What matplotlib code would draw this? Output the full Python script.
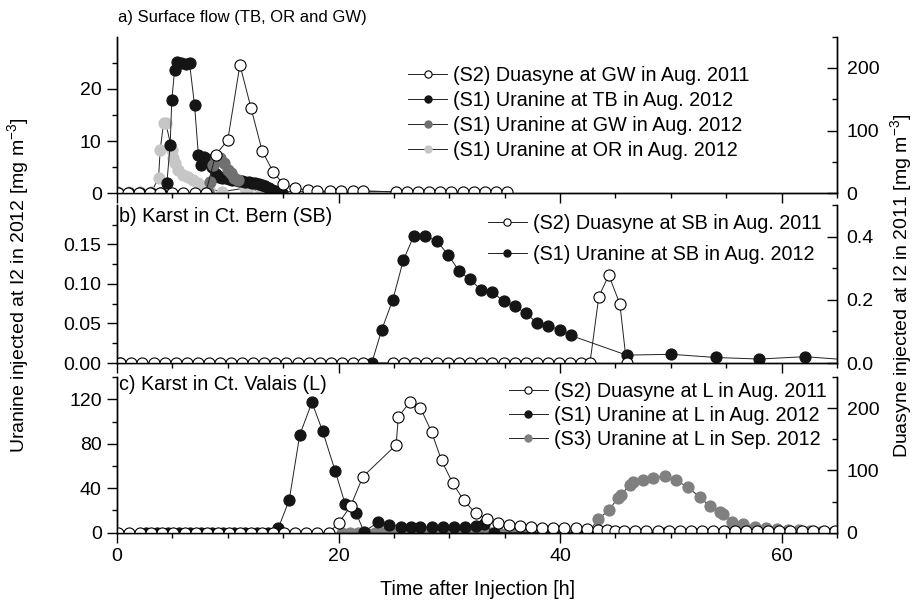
import matplotlib.pyplot as plt

plt.rcParams['font.family'] = ['Liberation Sans', 'DejaVu Sans']
plt.rcParams['font.size'] = 14
plt.rcParams['mathtext.fontset'] = 'custom'
plt.rcParams['mathtext.rm'] = 'Liberation Sans'

# ---- panel a: surface flow ----
a_s2_t = [0.1, 1.0, 2.0, 3.0, 3.9, 5.0, 6.0, 7.0, 8.0, 8.9, 10.0, 11.1, 12.1, 13.1, 14.1, 15.0, 16.1,
          17.2, 18.1, 19.2, 20.2, 21.3, 22.2, 25.2, 26.2, 27.2, 28.2, 29.2, 30.2, 31.2, 32.2, 33.2, 34.2, 35.2]
a_s2_v = [0, 0, 0, 0, 0, 0, 0, 0, 0, 61, 85, 205, 136, 68, 34, 15, 8,
          5, 3, 3, 3, 3, 4, 2, 2, 2, 2, 2, 2, 2, 2, 2, 2, 2]
a_tb_t = [0.1, 1.1, 2.1, 3.1, 4.0, 4.5, 4.8, 4.95, 5.2, 5.45, 5.75, 6.2, 6.55, 7.0, 7.35, 7.6, 7.85, 8.1,
          8.35, 8.6, 8.9, 9.2, 9.5, 9.8, 10.1, 10.4, 10.7, 11.0, 11.3, 11.6, 11.9, 12.2, 12.5, 12.8,
          13.1, 13.4, 13.7, 14.0, 14.3, 14.6, 14.9]
a_tb_v = [0, 0, 0, 0, 0, 1.9, 9.3, 17.9, 23.6, 25.1, 25.0, 24.7, 24.9, 16.9, 7.3, 5.4, 7.0, 6.6,
          6.0, 5.0, 3.6, 3.1, 3.0, 2.9, 2.8, 2.6, 2.5, 2.4, 2.3, 2.2, 2.1, 2.0, 1.9, 1.7,
          1.5, 1.3, 1.0, 0.7, 0.5, 0.2, 0.1]
a_gw_t = [8.2, 8.4, 8.7, 8.9, 9.3, 9.7, 10.05, 10.3, 10.6, 10.9]
a_gw_v = [0.3, 2.2, 5.5, 6.8, 6.8, 5.8, 4.5, 3.8, 3.0, 2.5]
a_or_t = [0.1, 1.1, 2.1, 3.1, 3.75, 3.9, 4.2, 4.4, 4.95, 5.1, 5.25, 5.55, 6.0, 6.4, 6.9, 7.3, 7.8,
          8.3, 9.5, 11.6, 11.85, 13.0, 22.2, 25.2]
a_or_v = [0.2, 0.2, 0.2, 0.2, 2.9, 8.3, 13.4, 13.5, 8.3, 6.7, 5.8, 4.5, 3.5, 3.2, 2.5, 1.9, 1.2,
          0.8, 0.3, 1.0, 1.0, 0.3, 0.3, 0.3]

# ---- panel b: karst Ct. Bern ----
b_s2_t = [0.3, 1.3, 2.3, 3.3, 4.3, 5.3, 6.3, 7.3, 8.3, 9.3, 10.3, 11.3, 12.3, 13.3, 14.3, 15.3, 16.3,
          17.3, 18.3, 19.3, 20.3, 21.3, 22.2, 24.9, 25.9, 26.9, 27.9, 28.9, 29.9, 30.9, 31.9, 32.9,
          33.9, 34.9, 35.9, 36.9, 37.9, 38.9, 39.9, 40.9, 41.9, 42.7, 43.5, 44.4, 45.4, 46.0]
b_s2_v = [0, 0, 0, 0, 0, 0, 0, 0, 0, 0, 0, 0, 0, 0, 0, 0, 0,
          0, 0, 0, 0, 0, 0, 0, 0, 0, 0, 0, 0, 0, 0, 0,
          0, 0, 0, 0, 0, 0, 0, 0, 0, 0, 0.21, 0.278, 0.187, 0.0]
b_s1_t = [0.3, 23.0, 23.9, 24.9, 25.85, 26.8, 27.8, 28.9, 29.9, 30.9, 31.85, 32.85, 33.9, 34.9,
          35.9, 36.9, 37.9, 38.9, 40.0, 40.95, 46.0, 50.05, 54.05, 58.0, 62.1, 66.0]
b_s1_v = [0.0, 0.0, 0.042, 0.080, 0.130, 0.161, 0.161, 0.154, 0.137, 0.116, 0.106, 0.093, 0.090, 0.078,
          0.072, 0.063, 0.051, 0.047, 0.042, 0.035, 0.010, 0.011, 0.007, 0.005, 0.008, 0.004]

# ---- panel c: karst Ct. Valais ----
c_s2_t = [0.1, 1.1, 2.1, 3.1, 4.1, 5.1, 6.1, 7.1, 8.1, 9.1, 10.1, 11.1, 12.1, 13.1, 14.1, 15.1, 16.1,
          17.1, 18.1, 19.1, 20.0, 21.1, 22.2, 25.2, 25.4, 26.45, 27.4, 28.4, 29.3, 30.3, 31.3, 32.4,
          33.4, 34.4, 35.4, 36.4, 37.4, 38.4, 39.4, 40.4, 41.4, 42.4, 43.4, 44.2, 45.0, 45.8, 46.8,
          47.8, 48.8, 49.8, 50.8, 51.8, 52.8, 53.8, 54.8, 55.8, 56.8, 57.8, 58.8, 59.8, 60.8, 61.8,
          62.8, 63.8, 64.8]
c_s2_v = [0, 0, 0, 0, 0, 0, 0, 0, 0, 0, 0, 0, 0, 0, 0, 0, 0,
          0, 0, 0, 15, 43, 90, 141, 186, 210, 200, 162, 116, 80, 52, 31,
          22, 15, 12, 10, 9, 8, 8, 7, 7, 6, 5, 4, 3, 3, 3,
          3, 3, 3, 3, 3, 3, 3, 3, 3, 3, 3, 3, 3, 3, 3,
          3, 3, 3]
c_s1_t = [2.6, 3.6, 4.6, 5.6, 6.6, 7.6, 8.6, 9.6, 10.6, 11.6, 12.6, 13.6, 14.56, 15.55, 16.5, 17.6,
          18.56, 19.7, 20.6, 21.6, 22.3, 23.6, 24.6, 25.6, 26.5, 27.4, 28.4, 29.4, 30.4, 31.4, 32.4,
          33.1, 34.0, 43.5, 49.5, 52.0, 55.0, 60.0, 65.0]
c_s1_v = [0, 0, 0, 0, 0, 0, 0, 0, 0, 0, 0, 0, 4, 29.4, 87.9, 117.2,
          91.5, 55.5, 25.8, 17.4, 1, 9.4, 7, 5.5, 5, 5, 5, 5, 5, 5.5, 6,
          8, 0, 0, 0, 0, 0, 0, 0]
c_s3_t = [20.3, 21.0, 21.8, 22.5, 23.3, 24.0, 24.8, 25.5, 26.3, 27.0, 27.8, 28.5, 29.3, 30.0, 30.8,
          31.5, 32.3, 33.0, 33.8, 34.5, 35.3, 36.0, 36.8, 37.5, 38.3, 39.0, 39.8, 40.5, 41.3, 42.0,
          42.6, 43.4, 44.4, 45.2, 45.5, 46.3, 46.6, 47.5, 48.4, 49.45, 50.45, 51.55, 52.6, 53.5, 54.4,
          54.7, 55.5, 56.55, 57.6, 58.6, 59.6, 60.6, 61.6, 62.6, 63.6, 64.6]
c_s3_v = [0, 0, 0, 0, 0, 0, 0, 0, 0, 0, 0, 0, 0, 0, 0,
          0, 0, 0, 0, 0, 0, 0, 0, 0, 0, 0, 0, 0, 0, 0,
          0, 12, 20, 31, 34, 43, 46, 47, 49, 51, 47, 41, 32, 24, 19,
          17, 10, 8, 5.4, 4, 3, 2.5, 2, 1.5, 1, 1]

BLACK = '#151515'
DARK = '#707070'
LIGHT = '#c6c6c6'
MID = '#808080'


def series(ax, t, v, face, edge, label):
    line, = ax.plot(t, v, '-o', color='#222222', lw=0.7, ms=8, mfc=face, mec=edge,
                    mew=0.8, label=label)
    return line


def style(ax, ax2, ylim_l, maj_l, min_l, ylim_r, maj_r, min_r, xlabels):
    ax.set_xlim(0, 65)
    ax.set_ylim(*ylim_l)
    ax2.set_ylim(*ylim_r)
    ax.set_xticks([0, 20, 40, 60])
    ax.set_xticks([5, 10, 15, 25, 30, 35, 45, 50, 55, 65], minor=True)
    ax.set_yticks(maj_l)
    ax.set_yticks(min_l, minor=True)
    ax2.set_yticks(maj_r)
    ax2.set_yticks(min_r, minor=True)
    for a in (ax, ax2):
        a.spines['top'].set_visible(False)
        for s in ('left', 'right', 'bottom'):
            a.spines[s].set_linewidth(1.0)
    ax.tick_params(which='major', direction='out', length=7, width=1, pad=4, labelsize=14)
    ax.tick_params(which='minor', direction='out', length=3.6, width=1)
    ax2.tick_params(axis='y', which='major', direction='in', length=7, width=1, pad=7, labelsize=14)
    ax2.tick_params(axis='y', which='minor', direction='in', length=3.6, width=1)
    if not xlabels:
        ax.tick_params(axis='x', labelbottom=False)


fig = plt.figure(figsize=(9.14, 6.02), dpi=100)
ax_a = fig.add_axes([0.128, 0.679, 0.7877, 0.2601])
ax_b = fig.add_axes([0.128, 0.397, 0.7877, 0.2625])
ax_c = fig.add_axes([0.128, 0.1151, 0.7877, 0.2586])
ax_a2 = ax_a.twinx()
ax_b2 = ax_b.twinx()
ax_c2 = ax_c.twinx()

leg_kw = dict(loc='upper left', frameon=False, borderpad=0, borderaxespad=0,
              handlelength=2.0, handletextpad=0.3, markerscale=0.65, fontsize=14.2)

# panel a
h_or = series(ax_a, a_or_t, a_or_v, LIGHT, LIGHT, '(S1) Uranine at OR in Aug. 2012')
h_tb = series(ax_a, a_tb_t, a_tb_v, BLACK, BLACK, '(S1) Uranine at TB in Aug. 2012')
h_gw = series(ax_a, a_gw_t, a_gw_v, DARK, DARK, '(S1) Uranine at GW in Aug. 2012')
h_s2 = series(ax_a2, a_s2_t, a_s2_v, 'white', 'black', '(S2) Duasyne at GW in Aug. 2011')
style(ax_a, ax_a2, (0, 30), [0, 10, 20], [5, 15, 25], (0, 250), [0, 100, 200], [50, 150, 250], False)
ax_a2.legend([h_s2, h_tb, h_gw, h_or], [h.get_label() for h in (h_s2, h_tb, h_gw, h_or)],
             bbox_to_anchor=(0.404, 0.812), labelspacing=0.3, **leg_kw)
ax_a.text(0.002, 1.12, 'a) Surface flow (TB, OR and GW)', transform=ax_a.transAxes,
          ha='left', va='center', fontsize=12)

# panel b
h_b1 = series(ax_b, b_s1_t, b_s1_v, BLACK, BLACK, '(S1) Uranine at SB in Aug. 2012')
h_b2 = series(ax_b2, b_s2_t, b_s2_v, 'white', 'black', '(S2) Duasyne at SB in Aug. 2011')
style(ax_b, ax_b2, (0, 0.2), [0, 0.05, 0.10, 0.15], [0.025, 0.075, 0.125, 0.175],
      (0, 0.5), [0, 0.2, 0.4], [0.1, 0.3, 0.5], False)
ax_b.yaxis.set_major_formatter(plt.FormatStrFormatter('%.2f'))
ax_b2.yaxis.set_major_formatter(plt.FormatStrFormatter('%.1f'))
ax_b2.legend([h_b2, h_b1], [h_b2.get_label(), h_b1.get_label()],
             bbox_to_anchor=(0.515, 0.945), labelspacing=0.6, **leg_kw)
ax_b.text(0.003, 0.93, 'b) Karst in Ct. Bern (SB)', transform=ax_b.transAxes,
          ha='left', va='center', fontsize=14.2)

# panel c
h_c3 = series(ax_c, c_s3_t, c_s3_v, MID, MID, '(S3) Uranine at L in Sep. 2012')
h_c1 = series(ax_c, c_s1_t, c_s1_v, BLACK, BLACK, '(S1) Uranine at L in Aug. 2012')
h_c2 = series(ax_c2, c_s2_t, c_s2_v, 'white', 'black', '(S2) Duasyne at L in Aug. 2011')
style(ax_c, ax_c2, (0, 140), [0, 40, 80, 120], [20, 60, 100, 140],
      (0, 250), [0, 100, 200], [50, 150, 250], True)
ax_c2.legend([h_c2, h_c1, h_c3], [h.get_label() for h in (h_c2, h_c1, h_c3)],
             bbox_to_anchor=(0.544, 0.97), labelspacing=0.27, **leg_kw)
ax_c.text(0.003, 0.95, 'c) Karst in Ct. Valais (L)', transform=ax_c.transAxes,
          ha='left', va='center', fontsize=14.2)

fig.text(0.522, 0.020, 'Time after Injection [h]', ha='center', va='center', fontsize=14.2)
fig.text(0.021, 0.527, 'Uranine injected at I2 in 2012 [mg m$^{-3}$]', rotation=90,
         ha='center', va='center', fontsize=14)
fig.text(0.987, 0.525, 'Duasyne injected at I2 in 2011 [mg m$^{-3}$]', rotation=90,
         ha='center', va='center', fontsize=14)

fig.savefig('out.png', dpi=100)
